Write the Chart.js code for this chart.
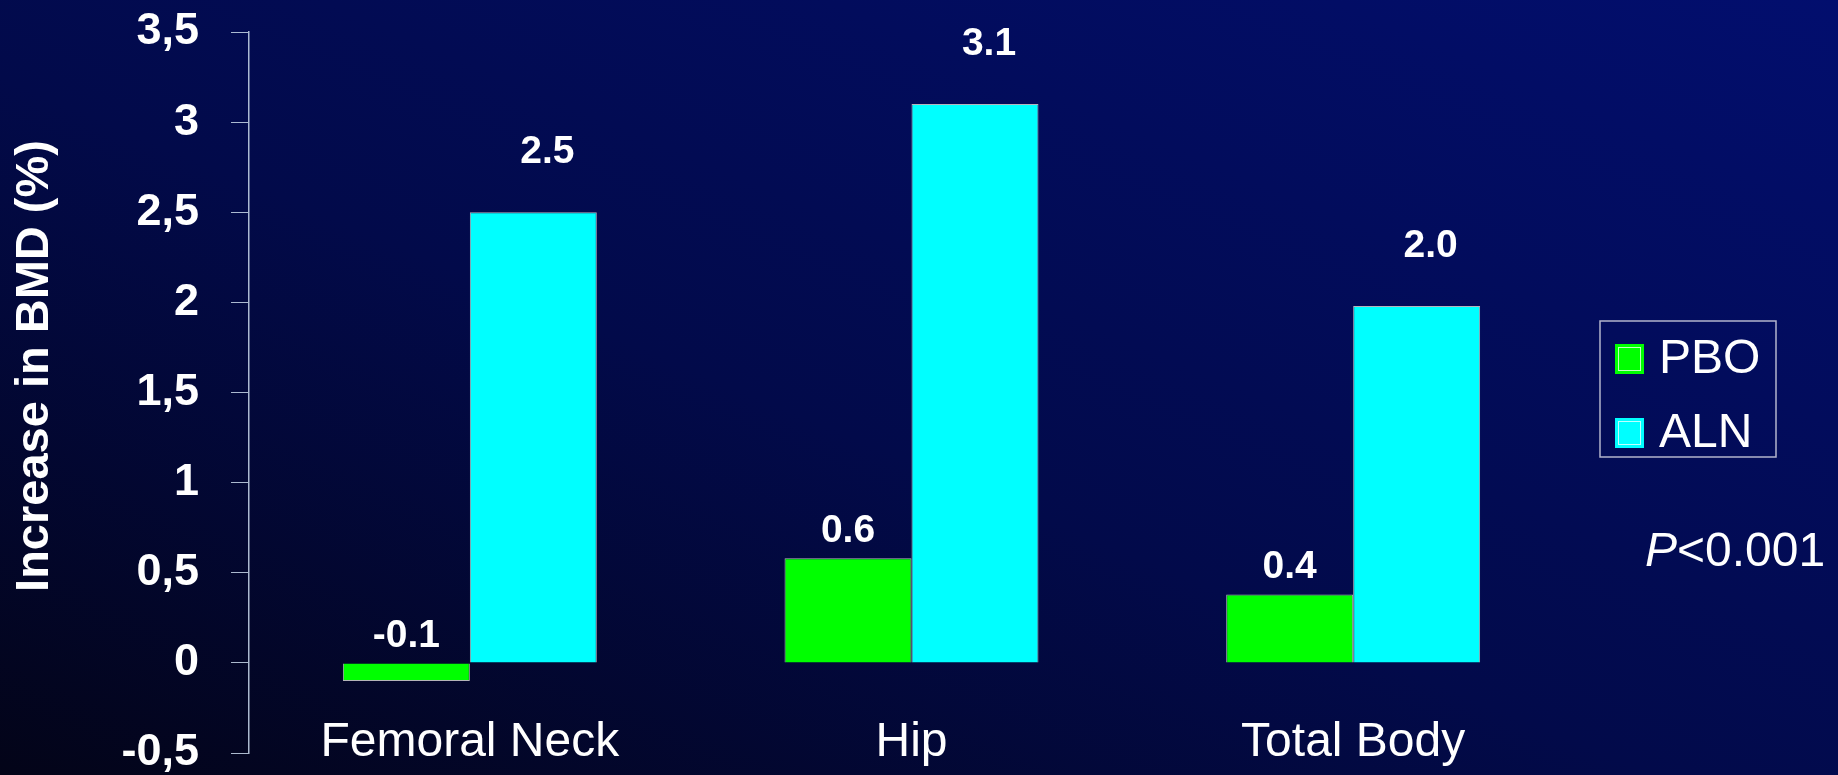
<!DOCTYPE html>
<html>
<head>
<meta charset="utf-8">
<script src="https://cdn.jsdelivr.net/npm/chart.js@4"></script>
<style>
  html, body { margin: 0; padding: 0; }
  body {
    width: 1838px; height: 775px; overflow: hidden;
    background: linear-gradient(to top right, #030418 0%, #020a4a 45%, #020e6e 100%);
  }
  #wrap { position: relative; width: 1838px; height: 775px; }
</style>
</head>
<body>
<div id="wrap"><canvas id="chart"></canvas></div>
<script>
var categories = ["Femoral Neck", "Hip", "Total Body"];
var pboValues = [-0.1, 0.58, 0.38];
var alnValues = [2.5, 3.1, 1.98];
var pboLabels = ["-0.1", "0.6", "0.4"];
var alnLabels = ["2.5", "3.1", "2.0"];
var seriesNames = ["PBO", "ALN"];
var yTitle = "Increase in BMD (%)";
var pValueText = "<0.001";

var FONT = "'Liberation Sans', Arial, sans-serif";

// value labels above each bar
var barLabels = {
  id: "barLabels",
  afterDatasetsDraw: function(chart) {
    var ctx = chart.ctx;
    var y = chart.scales.y;
    var sets = [
      { labels: pboLabels, values: pboValues, dx: 0, dy: 27 },
      { labels: alnLabels, values: alnValues, dx: 14, dy: 60 }
    ];
    ctx.save();
    ctx.fillStyle = "#ffffff";
    ctx.font = "bold 39px " + FONT;
    ctx.textAlign = "center";
    ctx.textBaseline = "middle";
    sets.forEach(function(s, di) {
      chart.getDatasetMeta(di).data.forEach(function(bar, i) {
        var top = y.getPixelForValue(Math.max(s.values[i], 0));
        ctx.fillText(s.labels[i], bar.x + s.dx, top - s.dy);
      });
    });
    ctx.restore();
  }
};

// axis title, boxed legend and p value
var sideNotes = {
  id: "sideNotes",
  afterDraw: function(chart) {
    var ctx = chart.ctx;
    var ds = chart.data.datasets;
    ctx.save();
    ctx.fillStyle = "#ffffff";
    ctx.translate(35, 366);
    ctx.rotate(-Math.PI / 2);
    ctx.font = "bold 47px " + FONT;
    ctx.textAlign = "center";
    ctx.textBaseline = "middle";
    ctx.fillText(yTitle, 0, 0);
    ctx.restore();

    ctx.save();
    ctx.strokeStyle = "rgba(210,210,225,0.85)";
    ctx.lineWidth = 1.5;
    ctx.strokeRect(1600, 321, 176, 136);
    ctx.font = "48px " + FONT;
    ctx.textBaseline = "middle";
    ctx.textAlign = "left";
    ds.forEach(function(d, i) {
      var cy = 359 + i * 74;
      ctx.fillStyle = d.backgroundColor;
      ctx.fillRect(1615, cy - 15, 29, 30);
      ctx.strokeStyle = "rgba(255,255,255,0.75)";
      ctx.lineWidth = 1;
      ctx.strokeRect(1618.5, cy - 11.5, 22, 23);
      ctx.fillStyle = "#ffffff";
      ctx.fillText(d.label, 1659, cy + 1);
    });
    ctx.font = "italic 48px " + FONT;
    ctx.fillText("P", 1645, 553);
    var w = ctx.measureText("P").width;
    ctx.font = "48px " + FONT;
    ctx.fillText(pValueText, 1645 + w, 553);
    ctx.restore();
  }
};

new Chart(document.getElementById("chart").getContext("2d"), {
  type: "bar",
  data: {
    labels: categories,
    datasets: [
      {
        label: seriesNames[0],
        data: pboValues,
        backgroundColor: "#00ff00",
        borderColor: "rgba(200,200,200,0.9)",
        borderWidth: 1,
        categoryPercentage: 0.575,
        barPercentage: 1.0
      },
      {
        label: seriesNames[1],
        data: alnValues,
        backgroundColor: "#00ffff",
        borderColor: "rgba(200,200,200,0.9)",
        borderWidth: 1,
        categoryPercentage: 0.575,
        barPercentage: 1.0
      }
    ]
  },
  options: {
    responsive: true,
    maintainAspectRatio: false,
    animation: false,
    layout: { padding: { top: 32, right: 264, bottom: 22, left: 0 } },
    plugins: {
      legend: { display: false },
      tooltip: { enabled: false }
    },
    scales: {
      x: {
        position: { y: 0 },
        grid: { display: false },
        border: { display: false },
        ticks: {
          color: "#ffffff",
          padding: 43,
          font: { family: FONT, size: 48 }
        }
      },
      y: {
        min: -0.5,
        max: 3.5,
        afterFit: function(scale) {
          scale.width = 249;
          scale.paddingTop = 0;
          scale.paddingBottom = 0;
        },
        grid: {
          drawOnChartArea: false,
          drawTicks: true,
          tickLength: 18,
          color: "rgba(190,205,225,0.9)"
        },
        border: { display: true, color: "rgba(190,205,225,0.9)", width: 1.5 },
        ticks: {
          stepSize: 0.5,
          color: "#ffffff",
          padding: 32,
          font: { family: FONT, size: 45, weight: "bold" },
          callback: function(v) { return String(v).replace(".", ","); }
        }
      }
    }
  },
  plugins: [barLabels, sideNotes]
});
</script>
</body>
</html>
